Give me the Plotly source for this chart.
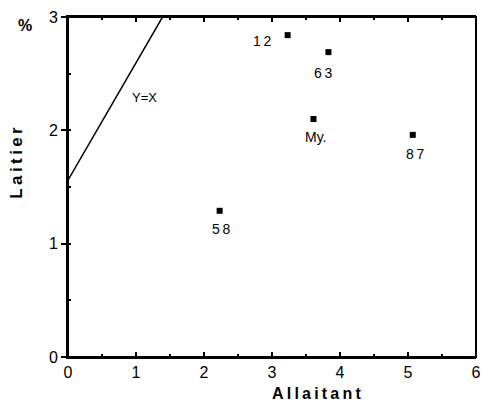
import plotly.graph_objects as go

# Sample points (Allaitant %, Laitier %)
labels = ["12", "63", "My.", "87", "58"]
allaitant = [3.23, 3.83, 3.61, 5.07, 2.23]
laitier = [2.84, 2.69, 2.10, 1.96, 1.29]
# Pixel offsets of each label relative to its point
label_dx = [-25, -5, 3, 3, 2]
label_dy = [-6, -21, -18, -19, -18]

# Reference line
ref_x = [0.0, 1.39]
ref_y = [1.56, 3.0]

x_ticks = [0, 1, 2, 3, 4, 5, 6]
y_ticks = [0, 1, 2, 3]

font_family = "Liberation Sans, Arial, sans-serif"
THIN = "\u2009"


def spaced(s):
    return THIN.join(s)


fig = go.Figure()

fig.add_trace(go.Scatter(
    x=ref_x, y=ref_y, mode="lines",
    line=dict(color="black", width=1.5),
    hoverinfo="skip", showlegend=False,
))

fig.add_trace(go.Scatter(
    x=allaitant, y=laitier, mode="markers",
    marker=dict(symbol="square", size=6, color="black"),
    showlegend=False,
))

for lab, xv, yv, dx, dy in zip(labels, allaitant, laitier, label_dx, label_dy):
    fig.add_annotation(
        x=xv, y=yv, text=spaced(lab) if lab.isdigit() else lab,
        showarrow=False, xshift=dx, yshift=dy,
        font=dict(family=font_family, size=14, color="black"),
    )

fig.add_annotation(
    x=1.12, y=2.29, text="Y=X", showarrow=False,
    font=dict(family=font_family, size=13, color="black"),
)

# Unit marker and axis titles
fig.add_annotation(
    xref="paper", yref="paper", x=-0.128, y=1.005, text="<b>%</b>", showarrow=False,
    font=dict(family=font_family, size=16, color="black"),
)
fig.add_annotation(
    xref="paper", yref="paper", x=-0.127, y=0.572, textangle=-90,
    text="<b>" + spaced("Laitier") + "</b>", showarrow=False,
    xanchor="center", yanchor="middle",
    font=dict(family=font_family, size=17, color="black"),
)
fig.add_annotation(
    xref="paper", yref="paper", x=0.61, y=-0.108,
    text="<b>" + spaced("Allaitant") + "</b>", showarrow=False,
    xanchor="center", yanchor="middle",
    font=dict(family=font_family, size=16, color="black"),
)

# Plot frame
fig.add_shape(
    type="rect", xref="paper", yref="paper", x0=0, y0=0, x1=1, y1=1,
    line=dict(color="black", width=2),
)

fig.update_layout(
    width=482, height=402, autosize=False,
    margin=dict(l=68, r=6, t=17, b=45, pad=0),
    paper_bgcolor="white", plot_bgcolor="white",
    font=dict(family=font_family, size=15, color="black"),
    xaxis=dict(
        range=[0, 6], tickvals=x_ticks, ticks="inside", ticklen=5, tickwidth=1.5,
        tickcolor="black", showline=True, linecolor="black", linewidth=2,
        mirror="ticks", showgrid=False, zeroline=False, automargin=False,
        minor=dict(dtick=0.5, ticks="inside", ticklen=3, tickcolor="black"),
        tickfont=dict(family=font_family, size=16),
    ),
    yaxis=dict(
        range=[0, 3], tickvals=y_ticks, ticks="outside", ticklen=5, tickwidth=1.5,
        tickcolor="black", showline=True, linecolor="black", linewidth=2,
        showgrid=False, zeroline=False, automargin=False,
        minor=dict(dtick=0.5, ticks="inside", ticklen=3, tickcolor="black"),
        tickfont=dict(family=font_family, size=16),
    ),
)

fig.write_html("out.html")
